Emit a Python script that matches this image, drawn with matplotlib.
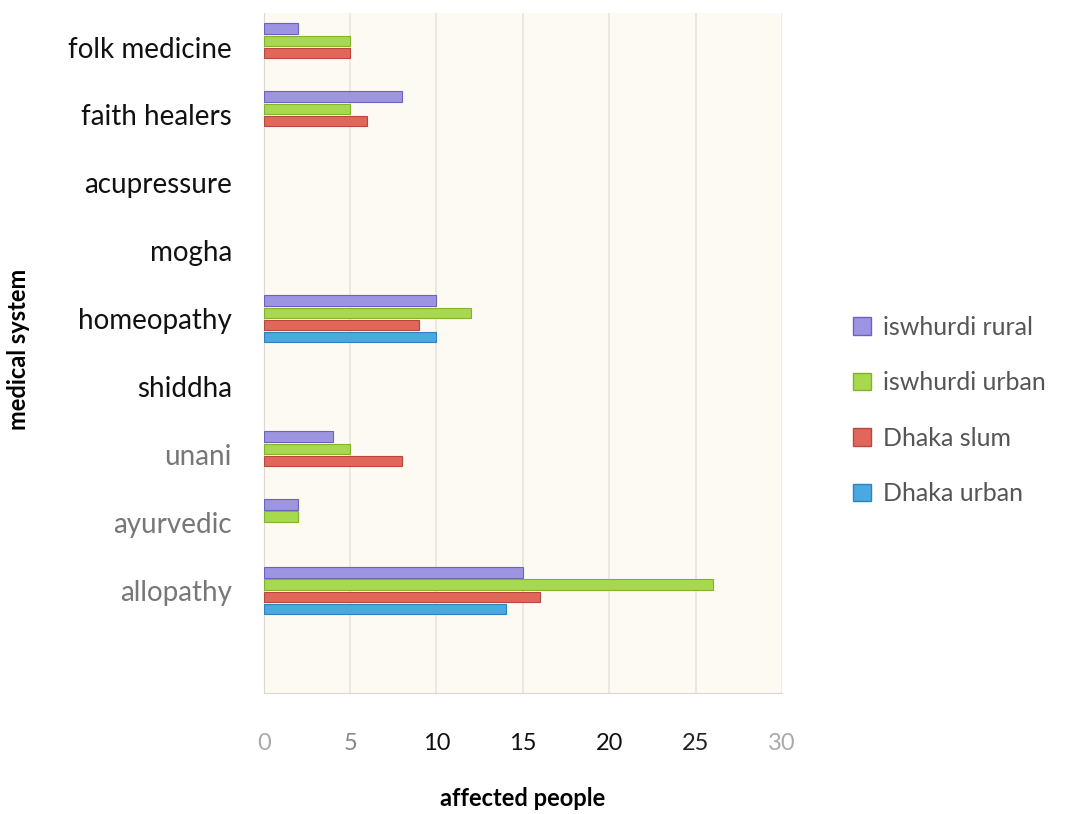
import numpy as np
import matplotlib.pyplot as plt
from matplotlib.patches import Patch

# categories top to bottom (last slot is empty in the original)
systems = ['folk medicine', 'faith healers', 'acupressure', 'mogha', 'homeopathy',
           'shiddha', 'unani', 'ayurvedic', 'allopathy', '']

iswhurdi_rural = [2, 8, 0, 0, 10, 0, 4, 2, 15, 0]
iswhurdi_urban = [5, 5, 0, 0, 12, 0, 5, 2, 26, 0]
dhaka_slum = [5, 6, 0, 0, 9, 0, 8, 0, 16, 0]
dhaka_urban = [0, 0, 0, 0, 10, 0, 0, 0, 14, 0]

series_names = ['iswhurdi rural', 'iswhurdi urban', 'Dhaka slum', 'Dhaka urban']
colors = ['#9d94e2', '#a8d84e', '#e2675b', '#4aa9e0']
edges = ['#6f62bf', '#7fb52c', '#b8483d', '#2d84bd']

plt.rcParams['font.family'] = ['Lato', 'DejaVu Sans']

fig = plt.figure(figsize=(10.72, 8.14), dpi=100)
ax = fig.add_axes([0.246, 0.149, 0.4835, 0.835])
ax.set_facecolor('#fdf9f3')

y = np.arange(len(systems))
h = 0.18
all_vals = [iswhurdi_rural, iswhurdi_urban, dhaka_slum, dhaka_urban]
for i, vals in enumerate(all_vals):
    lw = [0.8 if v else 0 for v in vals]
    ax.barh(y + (i - 1.5) * h, vals, h * 0.85, color=colors[i],
            edgecolor=edges[i], linewidth=lw, zorder=3)

ax.set_ylim(len(systems) - 0.5, -0.5)
ax.set_xlim(0, 30)
ax.set_xticks(range(0, 31, 5))
ax.xaxis.grid(True, color='#ebe4da', linewidth=1.2, zorder=0)

ax.set_yticks(y)
ax.set_yticklabels(systems, fontsize=20)
lab_colors = ['#111111'] * 6 + ['#777777'] * 4
for t, c in zip(ax.get_yticklabels(), lab_colors):
    t.set_color(c)
xcols = ['#aaaaaa', '#888888', '#111111', '#111111', '#111111', '#222222', '#aaaaaa']
ax.set_xticklabels([str(v) for v in range(0, 31, 5)], fontsize=17)
for t, c in zip(ax.get_xticklabels(), xcols):
    t.set_color(c)

ax.tick_params(axis='both', length=0)
ax.tick_params(axis='x', pad=29)
ax.tick_params(axis='y', pad=23)
for s in ['top', 'right']:
    ax.spines[s].set_visible(False)
ax.spines['left'].set_color('#d8d8d8')
ax.spines['bottom'].set_color('#d8d8d8')

ax.set_xlabel('affected people', fontsize=17, fontweight='bold', labelpad=24)
ax.set_ylabel('medical system', fontsize=17, fontweight='bold')
ax.yaxis.set_label_coords(-0.45, 0.505)

handles = [Patch(facecolor=colors[i], edgecolor=edges[i]) for i in range(4)]
fig.legend(handles, series_names, loc='center left', bbox_to_anchor=(0.775, 0.496),
           frameon=False, fontsize=18, labelcolor='#555555', handlelength=0.7,
           handleheight=0.7, handletextpad=0.5, labelspacing=1.3)

fig.savefig('out.png', dpi=100, facecolor='white')
